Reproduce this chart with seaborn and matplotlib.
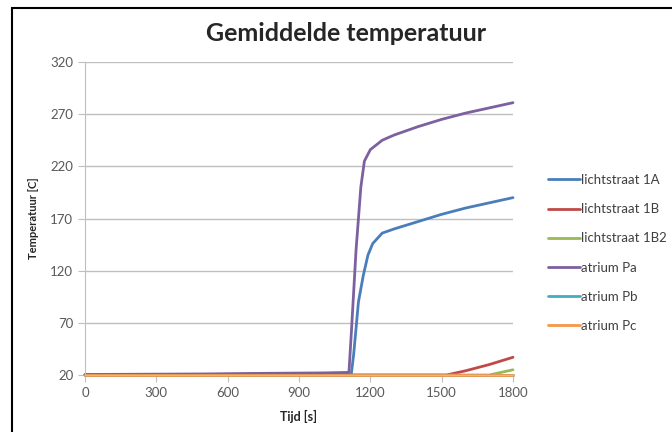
import numpy as np
import pandas as pd
import matplotlib
matplotlib.use("Agg")
import matplotlib.pyplot as plt
import seaborn as sns
from matplotlib.patches import Rectangle

# series data (time [s], temperature [C])
t_1a = [0, 500, 1000, 1120, 1130, 1150, 1170, 1190, 1210, 1250, 1300, 1400, 1500, 1600, 1700, 1800]
v_1a = [20, 20.3, 20.8, 21, 40, 90, 115, 135, 146, 156, 160, 167, 174, 180, 185, 190]

t_1b = [0, 1520, 1600, 1700, 1800]
v_1b = [20, 20, 24, 30, 37]

t_1b2 = [0, 1700, 1750, 1800]
v_1b2 = [20, 20, 22.5, 25]

t_pa = [0, 500, 700, 1000, 1110, 1120, 1140, 1160, 1175, 1200, 1250, 1300, 1400, 1500, 1600, 1700, 1800]
v_pa = [20.5, 21, 21.5, 22, 22.5, 60, 140, 200, 225, 236, 245, 250, 258, 265, 271, 276, 281]

t_pb = [0, 1800]
v_pb = [20, 20]

t_pc = [0, 1800]
v_pc = [20, 20]

series_names = ["lichtstraat 1A", "lichtstraat 1B", "lichtstraat 1B2",
                "atrium Pa", "atrium Pb", "atrium Pc"]
series_t = [t_1a, t_1b, t_1b2, t_pa, t_pb, t_pc]
series_v = [v_1a, v_1b, v_1b2, v_pa, v_pb, v_pc]
colors = ["#4A7EBB", "#BE4B48", "#98B954", "#7D60A0", "#46AAC5", "#F79646"]

x_ticks = [0, 300, 600, 900, 1200, 1500, 1800]
y_ticks = [20, 70, 120, 170, 220, 270, 320]

frames = []
for name, t, v in zip(series_names, series_t, series_v):
    frames.append(pd.DataFrame({"Tijd": t, "Temp": v, "serie": name}))
df = pd.concat(frames, ignore_index=True)

sns.set_style("white")
plt.rcParams["font.family"] = ["Lato", "DejaVu Sans"]

fig = plt.figure(figsize=(6.72, 4.32), dpi=100)
ax = fig.add_axes([85 / 672, 1 - 375 / 432, 428 / 672, 313 / 432])

sns.lineplot(data=df, x="Tijd", y="Temp", hue="serie", hue_order=series_names,
             palette=colors, estimator=None, sort=False, linewidth=2, ax=ax)
for line in ax.get_lines():
    line.set_clip_on(False)

ax.set_xlim(0, 1800)
ax.set_ylim(20, 320)
ax.set_xticks(x_ticks)
ax.set_yticks(y_ticks)
ax.yaxis.grid(True, color="#BFBFBF", linewidth=1)
ax.set_axisbelow(True)
for side in ["top", "right"]:
    ax.spines[side].set_visible(False)
for side in ["left", "bottom"]:
    ax.spines[side].set_color("#BFBFBF")
ax.tick_params(axis="both", length=5, color="#BFBFBF", labelsize=9.5,
               labelcolor="#595959", direction="out", bottom=True, left=True)

ax.set_xlabel("Tijd [s]", fontsize=9, fontweight="bold", labelpad=8)
ax.set_ylabel("Temperatuur [C]", fontsize=8, fontweight="bold", labelpad=8)
fig.text(0.515, 0.922, "Gemiddelde temperatuur", ha="center", va="center",
         fontsize=18, fontweight="bold")

leg = ax.legend(loc="center left", bbox_to_anchor=(1.055, 0.39), frameon=False,
                fontsize=9.5, handlelength=2.4, handletextpad=0.1, labelspacing=1.3)
for txt in leg.get_texts():
    txt.set_color("#404040")

# outer chart border
fig.patches.append(Rectangle((12 / 672, -0.1), 1.1, 0.1 + 1 - 8 / 432,
                             transform=fig.transFigure, fill=False,
                             edgecolor="black", linewidth=1.5))

fig.savefig("out.png", dpi=100)
